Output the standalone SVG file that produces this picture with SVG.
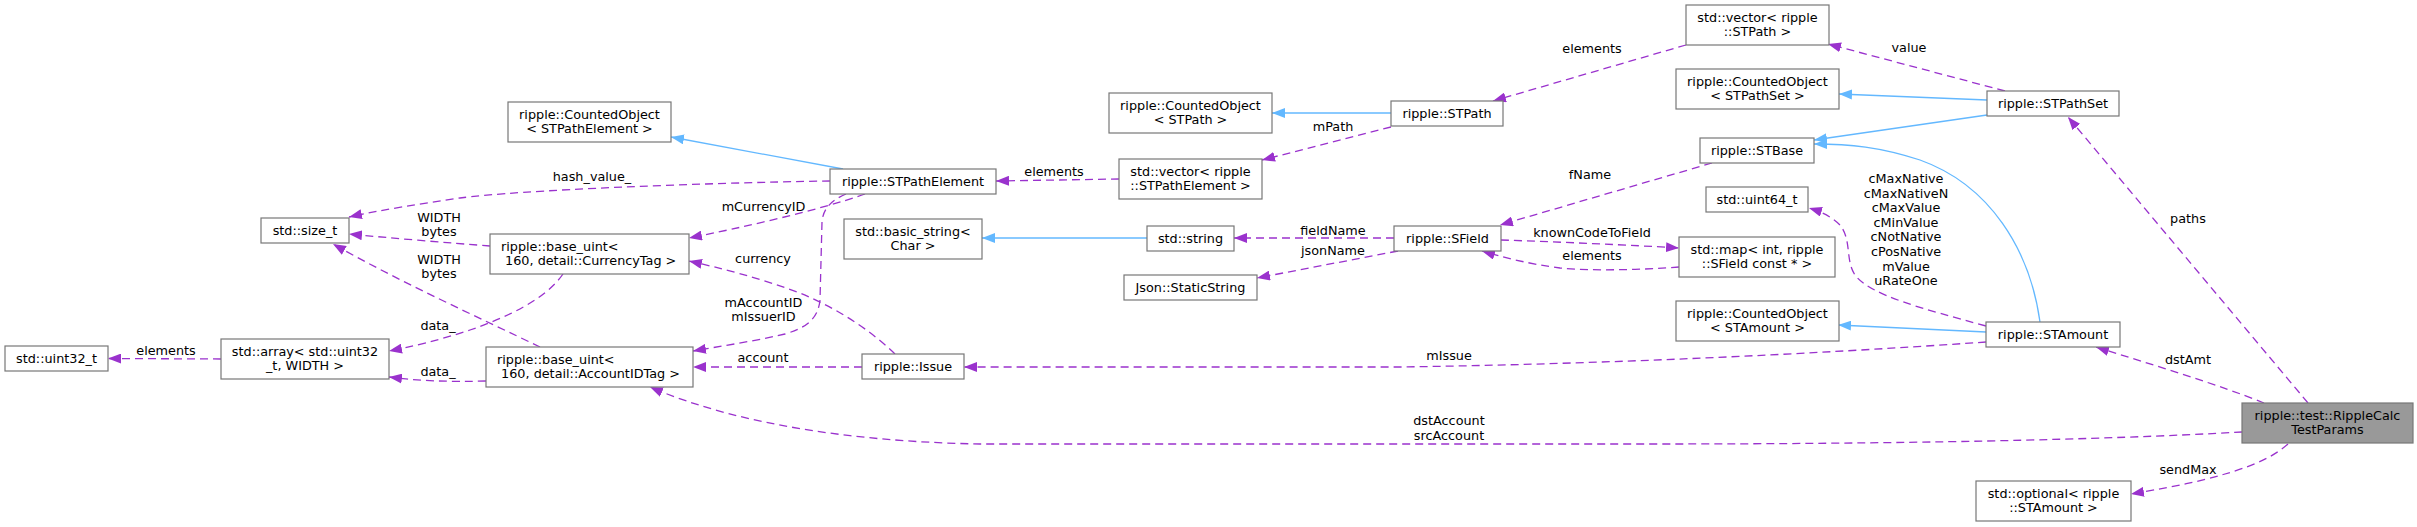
<svg xmlns="http://www.w3.org/2000/svg" width="2417" height="527" viewBox="0 0 2417 527">
<style>
.n rect{fill:#fff;stroke:#777;stroke-width:1.2}
.root rect{fill:#999;stroke:#777;stroke-width:1.2}
text{font-family:"DejaVu Sans","Liberation Sans",sans-serif;font-size:12.8px;fill:#000}
.n text,.root text{text-anchor:middle}
.n text.l{text-anchor:start}
.u{fill:none;stroke:#9a32cd;stroke-width:1.3;stroke-dasharray:8,5;marker-end:url(#pa)}
.i{fill:none;stroke:#63b8ff;stroke-width:1.3;marker-end:url(#ba)}
.lb text{text-anchor:middle}
</style>
<defs>
<marker id="pa" markerUnits="userSpaceOnUse" viewBox="0 0 13 10" markerWidth="13" markerHeight="10" refX="13" refY="5" orient="auto"><path d="M0,0 L13,5 L0,10 z" fill="#9a32cd"/></marker>
<marker id="ba" markerUnits="userSpaceOnUse" viewBox="0 0 13 10" markerWidth="13" markerHeight="10" refX="13" refY="5" orient="auto"><path d="M0,0 L13,5 L0,10 z" fill="#63b8ff"/></marker>
</defs>
<rect width="2417" height="527" fill="#fff"/>
<g id="edges">
<path class="u" d="M221,359 L108,358.5"/>
<path class="u" d="M563,274 C545,300 505,318 470,330 C440,340 410,347 389,351"/>
<path class="u" d="M486,381 C450,382 420,381 389,377"/>
<path class="u" d="M490,246 C450,243 390,238 349,234"/>
<path class="u" d="M540,347 C480,318 400,282 333,244"/>
<path class="u" d="M830,181 C700,183 520,190 460,198 C420,204 380,210 349,217"/>
<path class="u" d="M865,194 C820,210 740,228 689,238"/>
<path class="u" d="M846,194 C832,200 823,208 822,222 L820,300 C818,320 805,328 785,334 C755,341 722,346 693,351"/>
<path class="u" d="M895,354 C870,330 840,310 800,293 C760,278 720,268 689,261"/>
<path class="u" d="M862,367 L693,367"/>
<path class="u" d="M1119,179 L996,181"/>
<path class="u" d="M1391,127 L1262,160"/>
<path class="u" d="M1686,45 L1493,101"/>
<path class="u" d="M2005,91 L1828,44"/>
<path class="u" d="M1712,163 L1500,225"/>
<path class="u" d="M1394,238 L1234,238"/>
<path class="u" d="M1398,251 L1257,278"/>
<path class="u" d="M1501,240 C1560,242 1630,245 1679,248"/>
<path class="u" d="M1679,267 C1640,270 1590,271 1560,268 C1530,264 1505,258 1482,251"/>
<path class="u" d="M1986,326 C1920,308 1870,295 1855,275 C1845,260 1852,240 1840,225 C1832,217 1822,212 1809,208"/>
<path class="u" d="M1986,342 C1800,355 1600,364 1400,367 L964,367"/>
<path class="u" d="M2308,403 L2068,117"/>
<path class="u" d="M2264,403 C2220,385 2150,364 2096,347"/>
<path class="u" d="M2242,432 C2100,440 1900,444 1650,444 L980,444 C870,442 745,428 650,387"/>
<path class="u" d="M2288,444 C2270,460 2245,468 2225,474 C2195,483 2160,489 2131,494"/>
<path class="i" d="M843,169 L671,137"/>
<path class="i" d="M1147,238 L982,238"/>
<path class="i" d="M1391,113 L1272,113"/>
<path class="i" d="M1987,100 L1839,94"/>
<path class="i" d="M1987,115 L1814,140"/>
<path class="i" d="M2040,322 C2030,250 1990,185 1920,160 C1880,147 1850,144 1814,144"/>
<path class="i" d="M1986,332 L1838,325"/>
<g class="lb">
<text x="166" y="355">elements</text>
<text x="438" y="330">data_</text>
<text x="438" y="376">data_</text>
<text x="439" y="221.5">WIDTH</text>
<text x="439" y="235.5">bytes</text>
<text x="439" y="263.5">WIDTH</text>
<text x="439" y="277.5">bytes</text>
<text x="592" y="180.5">hash_value_</text>
<text x="763.5" y="211">mCurrencyID</text>
<text x="763.5" y="307">mAccountID</text>
<text x="763.5" y="321">mIssuerID</text>
<text x="763" y="263">currency</text>
<text x="763" y="362">account</text>
<text x="1054" y="176">elements</text>
<text x="1333" y="131">mPath</text>
<text x="1592" y="52.5">elements</text>
<text x="1909" y="52">value</text>
<text x="1590" y="178.5">fName</text>
<text x="1333" y="235">fieldName</text>
<text x="1333" y="255">jsonName</text>
<text x="1592" y="236.8">knownCodeToField</text>
<text x="1592" y="259.8">elements</text>
<text x="1906" y="183">cMaxNative</text>
<text x="1906" y="197.6">cMaxNativeN</text>
<text x="1906" y="212.2">cMaxValue</text>
<text x="1906" y="226.8">cMinValue</text>
<text x="1906" y="241.4">cNotNative</text>
<text x="1906" y="256">cPosNative</text>
<text x="1906" y="270.6">mValue</text>
<text x="1906" y="285.2">uRateOne</text>
<text x="1449" y="360">mIssue</text>
<text x="2188" y="223">paths</text>
<text x="2188" y="364">dstAmt</text>
<text x="1449" y="425">dstAccount</text>
<text x="1449" y="440">srcAccount</text>
<text x="2188" y="473.5">sendMax</text>
</g>
</g>
<g id="n_uint32" class="n"><rect x="5" y="346" width="103" height="25"/><text x="56.5" y="363">std::uint32_t</text></g>
<g id="n_array" class="n"><rect x="221" y="339" width="168" height="40"/><text x="305" y="356">std::array&lt; std::uint32</text><text x="305" y="370">_t, WIDTH &gt;</text></g>
<g id="n_size_t" class="n"><rect x="261" y="218" width="88" height="25"/><text x="305" y="235">std::size_t</text></g>
<g id="n_currency" class="n"><rect x="490" y="234" width="199" height="40"/><text class="l" x="501" y="251">ripple::base_uint&lt;</text><text class="l" x="501" y="265" xml:space="preserve"> 160, detail::CurrencyTag &gt;</text></g>
<g id="n_account" class="n"><rect x="486" y="347" width="207" height="40"/><text class="l" x="497" y="364">ripple::base_uint&lt;</text><text class="l" x="497" y="378" xml:space="preserve"> 160, detail::AccountIDTag &gt;</text></g>
<g id="n_co_spe" class="n"><rect x="508" y="102" width="163" height="40"/><text x="589.5" y="119">ripple::CountedObject</text><text x="589.5" y="133">&lt; STPathElement &gt;</text></g>
<g id="n_stpathelement" class="n"><rect x="830" y="169" width="166" height="25"/><text x="913" y="186">ripple::STPathElement</text></g>
<g id="n_basic_string" class="n"><rect x="844" y="219" width="138" height="40"/><text x="913" y="236">std::basic_string&lt;</text><text x="913" y="250">Char &gt;</text></g>
<g id="n_issue" class="n"><rect x="862" y="354" width="102" height="25"/><text x="913" y="371">ripple::Issue</text></g>
<g id="n_vec_spe" class="n"><rect x="1119" y="159" width="143" height="40"/><text x="1190.5" y="176">std::vector&lt; ripple</text><text x="1190.5" y="190">::STPathElement &gt;</text></g>
<g id="n_co_stpath" class="n"><rect x="1109" y="93" width="163" height="40"/><text x="1190.5" y="110">ripple::CountedObject</text><text x="1190.5" y="124">&lt; STPath &gt;</text></g>
<g id="n_string" class="n"><rect x="1147" y="226" width="87" height="25"/><text x="1190.5" y="243">std::string</text></g>
<g id="n_staticstring" class="n"><rect x="1124" y="275" width="133" height="25"/><text x="1190.5" y="292">Json::StaticString</text></g>
<g id="n_stpath" class="n"><rect x="1391" y="101" width="112" height="25"/><text x="1447" y="118">ripple::STPath</text></g>
<g id="n_sfield" class="n"><rect x="1394" y="226" width="107" height="25"/><text x="1447.5" y="243">ripple::SField</text></g>
<g id="n_vec_stpath" class="n"><rect x="1686" y="5" width="143" height="40"/><text x="1757.5" y="22">std::vector&lt; ripple</text><text x="1757.5" y="36">::STPath &gt;</text></g>
<g id="n_co_stpathset" class="n"><rect x="1676" y="69" width="163" height="40"/><text x="1757.5" y="86">ripple::CountedObject</text><text x="1757.5" y="100">&lt; STPathSet &gt;</text></g>
<g id="n_stbase" class="n"><rect x="1700" y="138" width="114" height="25"/><text x="1757" y="155">ripple::STBase</text></g>
<g id="n_uint64" class="n"><rect x="1706" y="187" width="102" height="25"/><text x="1757" y="204">std::uint64_t</text></g>
<g id="n_map" class="n"><rect x="1679" y="237" width="156" height="40"/><text x="1757" y="254">std::map&lt; int, ripple</text><text x="1757" y="268">::SField const * &gt;</text></g>
<g id="n_co_stamount" class="n"><rect x="1676" y="301" width="163" height="40"/><text x="1757.5" y="318">ripple::CountedObject</text><text x="1757.5" y="332">&lt; STAmount &gt;</text></g>
<g id="n_stpathset" class="n"><rect x="1987" y="91" width="132" height="25"/><text x="2053" y="108">ripple::STPathSet</text></g>
<g id="n_stamount" class="n"><rect x="1986" y="322" width="134" height="25"/><text x="2053" y="339">ripple::STAmount</text></g>
<g id="n_rctp" class="root"><rect x="2242" y="403" width="171" height="40"/><text x="2327.5" y="420">ripple::test::RippleCalc</text><text x="2327.5" y="434">TestParams</text></g>
<g id="n_optional" class="n"><rect x="1976" y="481" width="155" height="40"/><text x="2053.5" y="498">std::optional&lt; ripple</text><text x="2053.5" y="512">::STAmount &gt;</text></g>
</svg>
